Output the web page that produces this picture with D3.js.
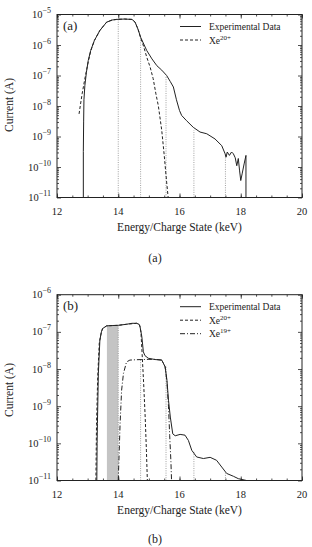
<!DOCTYPE html>
<html><head><meta charset="utf-8">
<script src="https://cdn.jsdelivr.net/npm/d3@7"></script>
<style>
body{margin:0;background:#fff}
svg text{font-family:'Liberation Serif','DejaVu Serif',serif;fill:#222}
</style>
</head><body><svg id="c" width="312" height="547" font-family="Liberation Serif, DejaVu Serif, serif"></svg>
<script>
// ---------- data ----------
const xTicks = [12, 14, 16, 18, 20];
const yTicksA = [1e-11, 1e-10, 1e-9, 1e-8, 1e-7, 1e-6, 1e-5];
const yTicksB = [1e-11, 1e-10, 1e-9, 1e-8, 1e-7, 1e-6];
const legendA = ["Experimental Data", "Xe|20+"];
const legendB = ["Experimental Data", "Xe|20+", "Xe|19+"];

// Panel (a) experimental data
const expA_E = [12.86,12.86,12.87,12.88,12.91,12.96,13.02,13.10,13.22,13.40,13.62,13.80,13.95,14.20,14.45,14.55,14.65,14.73,14.93,15.10,15.26,15.42,15.58,15.70,15.80,15.90,16.00,16.07,16.23,16.45,16.67,16.89,17.16,17.38,17.49,17.52,17.56,17.63,17.70,17.76,17.82,17.87,17.92,17.96,18.00,18.05,18.11,18.17,18.17];
const expA_I = [1e-11,3.2e-10,3.2e-9,1.6e-8,4.7e-8,1.26e-7,3.1e-7,6.6e-7,1.4e-6,3.0e-6,5.6e-6,6.6e-6,6.9e-6,7.1e-6,6.9e-6,5.6e-6,3.2e-6,1.8e-6,6.6e-7,3.5e-7,2.1e-7,1.5e-7,1.0e-7,6.3e-8,4.2e-8,1.6e-8,7.1e-9,4.9e-9,3.3e-9,2.0e-9,1.4e-9,1.23e-9,8.3e-10,5.0e-10,2.7e-10,2.1e-10,3.1e-10,2.4e-10,3.1e-10,2.7e-10,2.0e-10,1.1e-10,1.9e-10,7.9e-11,3.6e-11,6.3e-11,1.26e-10,2.4e-10,1e-11];
// Panel (a) Xe20+ fit
const xe20A_E = [12.72,12.82,12.92,13.02,13.10,13.22,13.40,13.62,13.80,13.95,14.20,14.45,14.55,14.65,14.73,14.83,14.93,15.04,15.14,15.23,15.31,15.42,15.50,15.58,15.63];
const xe20A_I = [5.5e-9,2.5e-8,8.9e-8,2.8e-7,6.3e-7,1.4e-6,3.0e-6,5.6e-6,6.6e-6,6.9e-6,7.1e-6,6.9e-6,5.6e-6,3.2e-6,1.74e-6,8.9e-7,4.0e-7,1.9e-7,7.9e-8,2.5e-8,1.0e-8,1.6e-9,2.5e-10,3.2e-11,1e-11];
// Panel (a) dotted markers
const markA_E = [14.0, 14.73, 15.56, 16.47, 17.5];
const markA_I = [6.9e-6, 1.8e-6, 9.3e-8, 1.6e-9, 2.5e-10];

// Panel (b) experimental data
const expB_E = [13.30,13.31,13.32,13.35,13.40,13.45,13.49,13.62,13.80,14.00,14.27,14.45,14.60,14.68,14.71,14.77,14.82,14.87,14.98,15.20,15.42,15.53,15.59,15.64,15.70,15.78,15.86,16.02,16.18,16.29,16.40,16.56,16.78,17.00,17.21,17.38,17.54,17.76,17.92,18.19];
const expB_I = [1e-11,1e-10,3.4e-10,7.6e-9,6.0e-8,1.0e-7,1.23e-7,1.45e-7,1.48e-7,1.5e-7,1.6e-7,1.7e-7,1.7e-7,1.6e-7,1.4e-7,7.4e-8,2.9e-8,2.3e-8,1.95e-8,1.8e-8,1.74e-8,1.15e-8,5.0e-9,1.45e-9,5.1e-10,1.8e-10,1.6e-10,1.74e-10,1.66e-10,1.2e-10,6.5e-11,4.3e-11,3.9e-11,4.2e-11,3.5e-11,2.3e-11,1.55e-11,1.3e-11,1.12e-11,1e-11];
// Panel (b) Xe20+ fit
const xe20B_E = [13.27,13.29,13.33,13.38,13.45,13.49,13.62,14.00,14.27,14.60,14.70,14.74,14.78,14.83,14.88,14.92,14.95];
const xe20B_I = [1e-11,3.2e-10,6.3e-9,5.0e-8,1.0e-7,1.23e-7,1.45e-7,1.5e-7,1.6e-7,1.7e-7,1.5e-7,1.0e-7,2.5e-8,4.0e-9,5.0e-10,6.3e-11,1e-11];
// Panel (b) Xe19+ fit
const xe19B_E = [14.00,14.04,14.06,14.11,14.17,14.27,14.38,14.60,15.00,15.20,15.42,15.53,15.59,15.64,15.68,15.72,15.74];
const xe19B_I = [1e-11,1e-10,3.4e-10,2.7e-9,7.6e-9,1.55e-8,1.74e-8,1.78e-8,1.82e-8,1.82e-8,1.74e-8,1.15e-8,4.5e-9,1.0e-9,1.6e-10,3.2e-11,1e-11];
// Panel (b) dotted markers and shaded band
const markB_E = [14.0, 14.73, 15.56, 16.47, 17.5];
const markB_I = [1.5e-7, 1.78e-8, 1.26e-8, 6.0e-11, 1.6e-11];
const shadeB_E = [13.63, 14.0];
const shadeB_I = 1.48e-7;

// ---------- drawing ----------
const svg = d3.select("#c");
const X0 = 57, X1 = 302;
const INK = "#222";
const FONT = "Liberation Serif, DejaVu Serif, serif";

function panel(o) {
  const g = svg.append("g").attr("font-family", FONT);
  const x = d3.scaleLinear().domain([12, 20]).range([X0, X1]);
  const y = d3.scaleLog().domain([o.yTicks[0], o.yTicks[o.yTicks.length - 1]]).range([o.yb, o.yt]);
  const zip = (E, I) => E.map((e, i) => [e, I[i]]);
  const line = d3.line().x(d => x(d[0])).y(d => y(d[1]));

  if (o.shade) {
    g.append("rect").attr("x", x(o.shade[0])).attr("width", x(o.shade[1]) - x(o.shade[0]))
      .attr("y", y(o.shadeTop)).attr("height", y(o.yTicks[0]) - y(o.shadeTop))
      .attr("fill", "#c4c4c4");
  }
  g.selectAll(".mk").data(zip(o.markE, o.markI)).enter().append("line")
    .attr("x1", d => x(d[0])).attr("x2", d => x(d[0]))
    .attr("y1", y(o.yTicks[0])).attr("y2", d => y(d[1]))
    .attr("stroke", "#8a8a8a").attr("stroke-width", 0.8).attr("stroke-dasharray", "1,1.3");

  o.series.forEach(s => {
    g.append("path").datum(zip(s.E, s.I)).attr("d", line)
      .attr("fill", "none").attr("stroke", INK).attr("stroke-width", 1)
      .attr("stroke-dasharray", s.dash || null);
  });

  const minorX = d3.range(12, 20.01, 0.5);
  const dec = [];
  for (let i = 0; i < o.yTicks.length - 1; i++) for (let k = 2; k < 10; k++) dec.push(o.yTicks[i] * k);
  const mk = (ax, s, tr, ticks, size) => {
    const a = g.append("g").attr("transform", tr).call(ax(s).tickValues(ticks).tickSize(size).tickFormat(""));
    a.select(".domain").remove();
    a.selectAll("line").attr("stroke", INK).attr("stroke-width", 0.8);
  };
  mk(d3.axisBottom, x, `translate(0,${o.yb})`, xTicks, -4);
  mk(d3.axisBottom, x, `translate(0,${o.yb})`, minorX, -2);
  mk(d3.axisTop, x, `translate(0,${o.yt})`, xTicks, -4);
  mk(d3.axisTop, x, `translate(0,${o.yt})`, minorX, -2);
  mk(d3.axisLeft, y, `translate(${X0},0)`, o.yTicks, -4);
  mk(d3.axisLeft, y, `translate(${X0},0)`, dec, -2);
  mk(d3.axisRight, y, `translate(${X1},0)`, o.yTicks, -4);
  mk(d3.axisRight, y, `translate(${X1},0)`, dec, -2);

  g.append("rect").attr("x", X0).attr("y", o.yt).attr("width", X1 - X0).attr("height", o.yb - o.yt)
    .attr("fill", "none").attr("stroke", INK).attr("stroke-width", 1);

  g.selectAll(".xl").data(xTicks).enter().append("text")
    .attr("x", d => x(d)).attr("y", o.yb + 17).attr("text-anchor", "middle")
    .attr("font-size", 10.5).text(d => d);
  const yl = g.selectAll(".yl").data(o.yTicks).enter().append("text")
    .attr("x", X0 - 6).attr("y", d => y(d) + 3.5).attr("text-anchor", "end").attr("font-size", 10.5);
  yl.append("tspan").text("10");
  yl.append("tspan").attr("dy", -5).attr("font-size", 8).text(d => "\u2212" + Math.round(-Math.log10(d)));

  g.append("text").attr("x", (X0 + X1) / 2).attr("y", o.yb + 33).attr("text-anchor", "middle")
    .attr("font-size", 11.5).text("Energy/Charge State (keV)");
  g.append("text").attr("transform", `translate(13,${o.ytitle}) rotate(-90)`).attr("text-anchor", "middle")
    .attr("font-size", 11.5).text("Current (A)");
  g.append("text").attr("x", X0 + 6).attr("y", o.yt + 15).attr("font-size", 13).text(o.tag);
  g.append("text").attr("x", 155).attr("y", o.capY).attr("text-anchor", "middle").attr("font-size", 12).text(o.tag);

  o.legend.forEach((t, i) => {
    const ly = o.yt + 12 + i * 13.5;
    g.append("line").attr("x1", 180).attr("x2", 201).attr("y1", ly).attr("y2", ly)
      .attr("stroke", INK).attr("stroke-width", 1).attr("stroke-dasharray", o.series[i].dash || null);
    const parts = t.split("|");
    const tx = g.append("text").attr("x", 209).attr("y", ly + 3.5).attr("font-size", 9.5);
    tx.append("tspan").text(parts[0]);
    if (parts[1]) tx.append("tspan").attr("dy", -4).attr("font-size", 7).text(parts[1]);
  });
}

panel({
  yt: 14.5, yb: 197.5, yTicks: yTicksA, ytitle: 105, capY: 262, tag: "(a)", legend: legendA,
  markE: markA_E, markI: markA_I,
  series: [{E: expA_E, I: expA_I}, {E: xe20A_E, I: xe20A_I, dash: "3,2"}]
});
panel({
  yt: 294.7, yb: 480.5, yTicks: yTicksB, ytitle: 390, capY: 543, tag: "(b)", legend: legendB,
  markE: markB_E, markI: markB_I, shade: shadeB_E, shadeTop: shadeB_I,
  series: [{E: expB_E, I: expB_I}, {E: xe20B_E, I: xe20B_I, dash: "3,2"}, {E: xe19B_E, I: xe19B_I, dash: "5,2,1,2"}]
});
</script>
</body></html>
